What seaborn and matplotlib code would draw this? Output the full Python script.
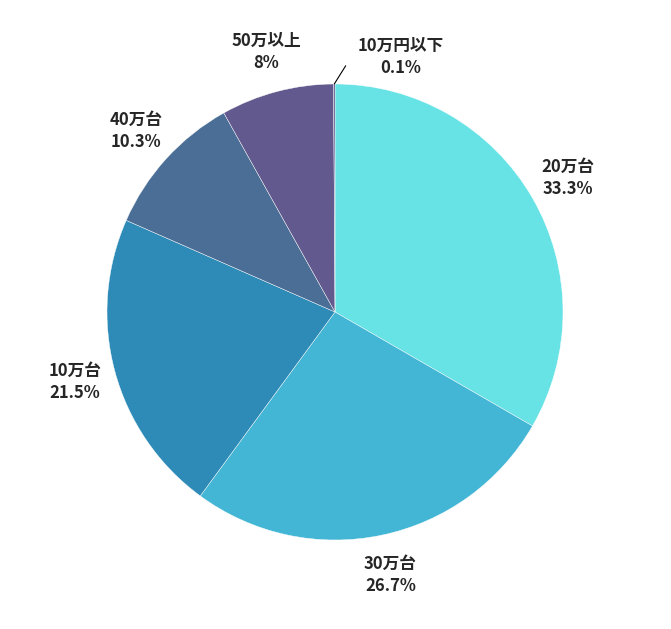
import numpy as np
import matplotlib
matplotlib.use("Agg")
import matplotlib.pyplot as plt
import seaborn as sns

sns.set_theme(style="white")
plt.rcParams['font.family'] = ['Noto Sans CJK JP', 'DejaVu Sans']

labels = ["20万台", "30万台", "10万台", "40万台", "50万以上", "10万円以下"]
values = [33.3, 26.7, 21.5, 10.3, 8.0, 0.1]
pct_text = ["33.3%", "26.7%", "21.5%", "10.3%", "8%", "0.1%"]
colors = ["#67E3E6", "#42B6D4", "#2E8BB7", "#4A6E96", "#625A8E", "#5A4A80"]

fig = plt.figure(figsize=(6.71, 6.29), dpi=100)
ax = fig.add_axes([0, 0, 1, 1])
wedges, _ = ax.pie(values, colors=colors, startangle=90, counterclock=False,
                   wedgeprops=dict(edgecolor="white", linewidth=0.3))
ax.set_xlim(-335/228, 336/228)
ax.set_ylim(-317/228, 312/228)
ax.axis("off")

for i, w in enumerate(wedges):
    mid = np.deg2rad((w.theta1 + w.theta2) / 2)
    if i == 5:
        x0, y0 = np.cos(mid) * 1.0, np.sin(mid) * 1.0
        ax.plot([x0, x0 + 0.05], [y0, y0 + 0.08], color="black", lw=0.8)
        ax.text(0.29, 1.12, f"{labels[i]}\n{pct_text[i]}", ha="center", va="center",
                fontsize=12, fontweight="bold", linespacing=1.3)
        continue
    r = 1.18
    ax.text(np.cos(mid) * r, np.sin(mid) * r, f"{labels[i]}\n{pct_text[i]}",
            ha="center", va="center", fontsize=12, fontweight="bold", linespacing=1.3)

fig.savefig("out.png", dpi=100)
